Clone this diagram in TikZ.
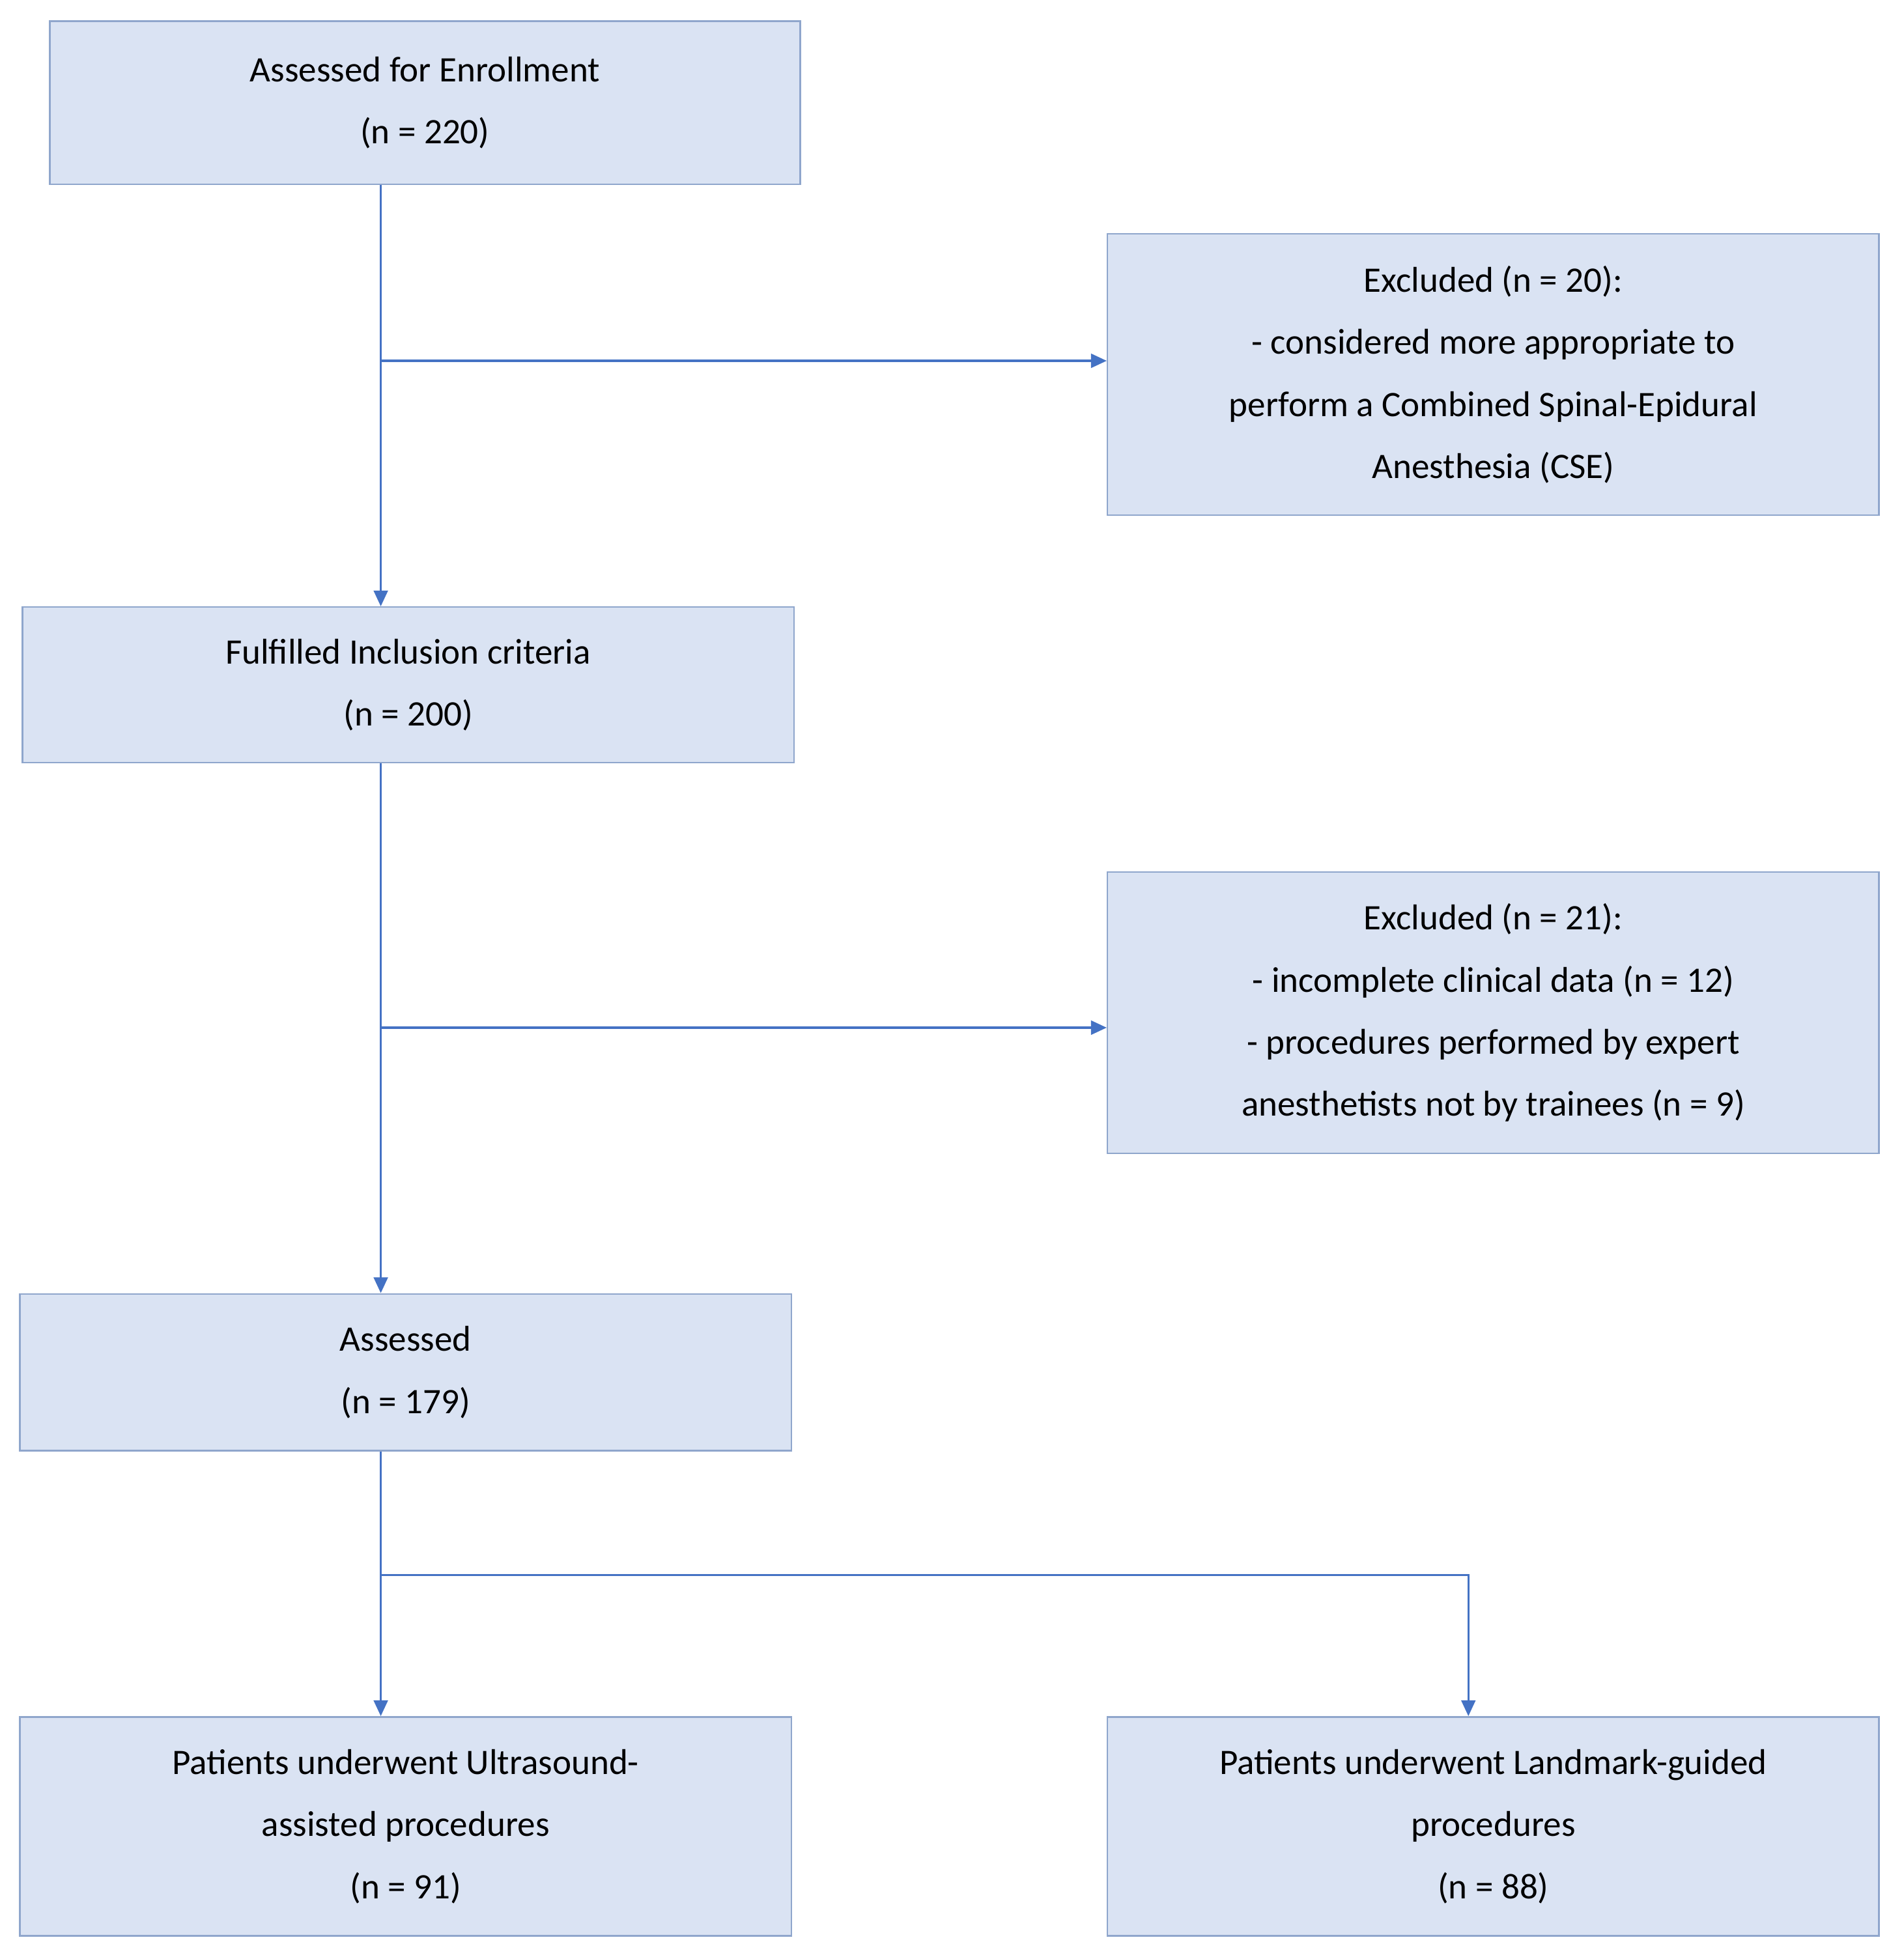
\documentclass[tikz,border=0pt]{standalone}
\usepackage{fontspec}
\setmainfont{Carlito}
\usetikzlibrary{arrows.meta}
\definecolor{boxfill}{HTML}{DAE3F3}
\definecolor{boxline}{HTML}{8FA6CC}
\definecolor{arr}{HTML}{4472C4}
\begin{document}
\begin{tikzpicture}[x=0.05cm,y=-0.05cm,
  box/.style={draw=boxline,fill=boxfill,line width=1.8pt,inner sep=0pt,align=center,
    font=\fontsize{41}{71}\selectfont},
  conn/.style={draw=arr,line width=2.6pt,-{Triangle[length=18pt,width=16pt]}}]
\useasboundingbox (0,0) rectangle (1530,1573);
\node[box,minimum width=603*0.05cm,minimum height=131*0.05cm] (a) at (341.5,82.5) {Assessed for Enrollment\\(n = 220)};
\node[box,minimum width=620*0.05cm,minimum height=226*0.05cm] (e1) at (1200,301) {Excluded (n = 20):\\- considered more appropriate to\\perform a Combined Spinal-Epidural\\Anesthesia (CSE)};
\node[box,minimum width=620*0.05cm,minimum height=125*0.05cm] (f) at (328,550.5) {Fulfilled Inclusion criteria\\(n = 200)};
\node[box,minimum width=620*0.05cm,minimum height=226*0.05cm] (e2) at (1200,814) {Excluded (n = 21):\\- incomplete clinical data (n = 12)\\- procedures performed by expert\\anesthetists not by trainees (n = 9)};
\node[box,minimum width=620*0.05cm,minimum height=126*0.05cm] (s) at (326,1103) {Assessed\\(n = 179)};
\node[box,minimum width=620*0.05cm,minimum height=176*0.05cm] (u) at (326,1468) {Patients underwent Ultrasound-\\assisted procedures\\(n = 91)};
\node[box,minimum width=620*0.05cm,minimum height=176*0.05cm] (l) at (1200,1468) {Patients underwent Landmark-guided\\procedures\\(n = 88)};
\coordinate (v) at (306,0);
\coordinate (r) at (1180,0);
\coordinate (j1) at (306,290);
\coordinate (j2) at (306,826);
\coordinate (j3) at (306,1266);
\draw[conn] (a.south -| v) -- (f.north -| v);
\draw[conn] (j1) -- (e1.west |- j1);
\draw[conn] (f.south -| v) -- (s.north -| v);
\draw[conn] (j2) -- (e2.west |- j2);
\draw[conn] (s.south -| v) -- (u.north -| v);
\draw[conn] (j3) -| (l.north -| r);
\end{tikzpicture}
\end{document}
